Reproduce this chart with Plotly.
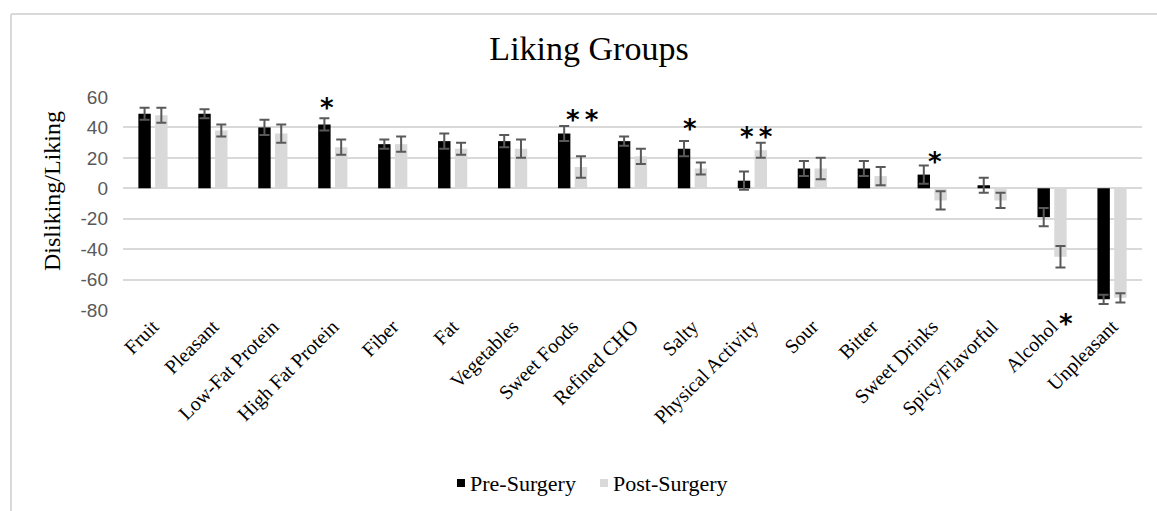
import plotly.graph_objects as go

# ---- data -------------------------------------------------------------
categories = ["Fruit", "Pleasant", "Low-Fat Protein", "High Fat Protein", "Fiber",
              "Fat", "Vegetables", "Sweet Foods", "Refined CHO", "Salty",
              "Physical Activity", "Sour", "Bitter", "Sweet Drinks",
              "Spicy/Flavorful", "Alcohol", "Unpleasant"]
pre_surgery = [49, 49, 40, 42, 29, 31, 31, 36, 31, 26, 5, 13, 13, 9, 2, -19, -73]
pre_err = [4, 3, 5, 4, 3, 5, 4, 5, 3, 5, 6, 5, 5, 6, 5, 6, 3]
post_surgery = [48, 38, 36, 27, 29, 26, 26, 14, 21, 13, 25, 13, 8, -8, -8, -45, -72]
post_err = [5, 4, 6, 5, 5, 4, 6, 7, 5, 4, 5, 7, 6, 6, 5, 7, 3]
y_ticks = [60, 40, 20, 0, -20, -40, -60, -80]
y_tick_labels = ["60", "40", "20", "0", "-20", "-40", "-60", "-80"]

# significance markers: (category, label, y value, x shift in px)
sig_marks = [("High Fat Protein", "*", 53, -6),
             ("Sweet Foods", "**", 45, 10),
             ("Salty", "*", 39, -2),
             ("Physical Activity", "**", 34, 4),
             ("Sweet Drinks", "*", 17, 3)]

# ---- geometry -----------------------------------------------------------
W, H = 1157, 511
ML, MR, MT, MB = 123, 15, 97, 201
PW, PH = W - ML - MR, H - MT - MB


def px_x(px):
    return (px - ML) / PW


def px_y(py):
    return (H - MB - py) / PH


SERIF = "Liberation Serif, Times New Roman, serif"
SANS = "Liberation Sans, Arial, sans-serif"
STAR_FONT = dict(family="DejaVu Sans", size=26, color="#000000")

fig = go.Figure()
fig.add_trace(go.Bar(
    x=categories, y=pre_surgery, name="Pre-Surgery",
    marker=dict(color="#000000", line=dict(width=0)),
    error_y=dict(type="data", array=pre_err, color="#595959", thickness=2, width=5),
    showlegend=False))
fig.add_trace(go.Bar(
    x=categories, y=post_surgery, name="Post-Surgery",
    marker=dict(color="#d9d9d9", line=dict(width=0)),
    error_y=dict(type="data", array=post_err, color="#595959", thickness=2, width=5),
    showlegend=False))

annotations = []
for cat, txt, yv, dx in sig_marks:
    annotations.append(dict(x=cat, y=yv, xref="x", yref="y",
                            text="<b>" + txt.replace("**", "*&#8201;*") + "</b>",
                            showarrow=False, xshift=dx, font=STAR_FONT,
                            yanchor="middle", xanchor="center"))
# marker beside the Alcohol category label
annotations.append(dict(x="Alcohol", y=px_y(324), xref="x", yref="paper",
                        text="<b>*</b>", showarrow=False, xshift=14, font=STAR_FONT,
                        yanchor="middle", xanchor="center"))

# y-axis title
annotations.append(dict(x=px_x(52), y=px_y(191), xref="paper", yref="paper",
                        text="Disliking/Liking", textangle=-90, showarrow=False,
                        xanchor="center", yanchor="middle",
                        font=dict(family=SERIF, size=24, color="#000000")))

# legend
legend_items = [("Pre-Surgery", "#000000", 457), ("Post-Surgery", "#d9d9d9", 600)]
shapes = []
for name, col, x0 in legend_items:
    shapes.append(dict(type="rect", xref="paper", yref="paper",
                       x0=px_x(x0), x1=px_x(x0 + 8), y0=px_y(487), y1=px_y(479),
                       fillcolor=col, line=dict(width=0)))
    annotations.append(dict(x=px_x(x0 + 11), y=px_y(483), xref="paper", yref="paper",
                            text=name, showarrow=False, xanchor="left", yanchor="middle",
                            font=dict(family=SERIF, size=22, color="#000000")))

# chart frame (left and top edges)
shapes.append(dict(type="line", xref="paper", yref="paper",
                   x0=px_x(11), x1=px_x(11), y0=px_y(14), y1=px_y(H + 20),
                   line=dict(color="#d9d9d9", width=2)))
shapes.append(dict(type="line", xref="paper", yref="paper",
                   x0=px_x(11), x1=px_x(W + 20), y0=px_y(14), y1=px_y(14),
                   line=dict(color="#d9d9d9", width=2)))

fig.update_layout(
    width=W, height=H,
    margin=dict(l=ML, r=MR, t=MT, b=MB, pad=0),
    paper_bgcolor="white", plot_bgcolor="white",
    barmode="group", bargap=0.44, bargroupgap=0.26,
    title=dict(text="Liking Groups", x=589 / W, xref="container", xanchor="center",
               y=1 - 48 / H, yref="container", yanchor="middle",
               font=dict(family=SERIF, size=34, color="#000000")),
    xaxis=dict(tickangle=-45, tickfont=dict(family=SERIF, size=20, color="#000000"),
               showgrid=False, showline=False, ticks="", zeroline=False),
    yaxis=dict(range=[-80, 60], tickvals=y_ticks, ticktext=y_tick_labels, ticks="",
               tickfont=dict(family=SANS, size=19, color="#595959"),
               showgrid=True, gridcolor="#d9d9d9", gridwidth=2,
               zeroline=True, zerolinecolor="#d9d9d9", zerolinewidth=2,
               showline=False, ticklabelstandoff=14),
    annotations=annotations,
    shapes=shapes,
)

fig.write_html("out.html")
